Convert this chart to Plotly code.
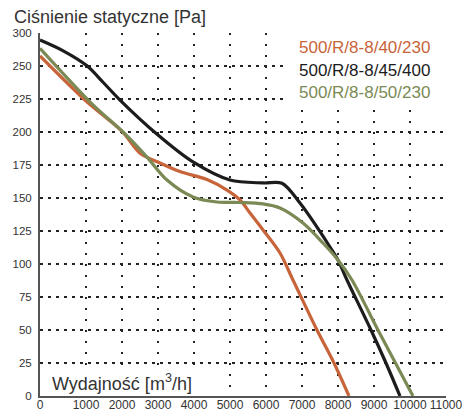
import plotly.graph_objects as go

# Axis in display units: the chart's scale is uneven (0->1000 is wider, 250->300 is compressed)
X_ZERO = -278          # axis position of the "0" tick
Y_TOP = 275            # axis position of the "300" tick

x_tick_vals = [X_ZERO, 1000, 2000, 3000, 4000, 5000, 6000, 7000, 8000, 9000, 10000, 11000]
x_tick_text = ["0", "1000", "2000", "3000", "4000", "5000", "6000", "7000", "8000", "9000", "10000", "11000"]
y_tick_vals = [0, 25, 50, 75, 100, 125, 150, 175, 200, 225, 250, Y_TOP]
y_tick_text = ["0", "25", "50", "75", "100", "125", "150", "175", "200", "225", "250", "300"]

series_names = ["500/R/8-8/40/230", "500/R/8-8/45/400", "500/R/8-8/50/230"]
series_colors = ["#c8643a", "#1c1c1c", "#7b8a55"]

red_x = [X_ZERO, 1000, 2000, 2500, 3056, 3611, 4361, 4917, 5278, 5556, 5917, 6389, 6750, 7417, 7889, 8306]
red_y = [257.6, 223.5, 200.5, 184, 176.5, 170, 164, 156, 148.5, 138.6, 125.8, 108.3, 87.9, 50, 25, 0]

black_x = [X_ZERO, 367, 1019, 1480, 1944, 3000, 3972, 5000, 5917, 6444, 6944, 7417, 7778, 8000, 8250, 8917, 9333, 9722]
black_y = [269.7, 261.5, 250.3, 237.5, 224.2, 197.7, 177.3, 163.6, 161.4, 161.2, 146.2, 128, 112.9, 103, 87.9, 50, 25, 0]

olive_x = [X_ZERO, 1194, 2028, 2694, 3250, 3972, 4639, 5278, 5917, 6389, 7028, 7583, 8000, 8389, 9111, 9597, 10083]
olive_y = [263.4, 220.5, 200, 181, 163.6, 150.8, 147, 146.6, 145.5, 142.4, 131, 115.9, 103, 87.9, 50, 25, 0]

xs = [red_x, black_x, olive_x]
ys = [red_y, black_y, olive_y]

FONT = "Liberation Sans, Arial, sans-serif"

fig = go.Figure()
for name, color, x, y in zip(series_names, series_colors, xs, ys):
    fig.add_trace(go.Scatter(x=x, y=y, mode="lines", name=name,
                             line=dict(color=color, width=3.2, shape="spline", smoothing=0.9),
                             showlegend=False, hoverinfo="skip"))

fig.update_layout(
    width=462, height=413,
    margin=dict(l=40, r=16, t=33, b=17),
    paper_bgcolor="white", plot_bgcolor="white",
    font=dict(family=FONT, color="#333333"),
    xaxis=dict(range=[X_ZERO, 11001], tickvals=x_tick_vals, ticktext=x_tick_text,
               automargin=False, ticklabeloverflow="allow",
               showgrid=True, gridcolor="#222222", gridwidth=1.6, griddash="2px,9px",
               showline=True, linecolor="#555555", linewidth=2, zeroline=False,
               ticks="", tickfont=dict(size=12, color="#333333"), ticklabelstandoff=-3),
    yaxis=dict(range=[0, Y_TOP + 0.01], tickvals=y_tick_vals, ticktext=y_tick_text,
               automargin=False, ticklabeloverflow="allow",
               showgrid=True, gridcolor="#222222", gridwidth=1.6, griddash="3px,5px",
               showline=True, linecolor="#555555", linewidth=2, zeroline=False,
               ticks="", tickfont=dict(size=11.5, color="#333333"), ticklabelstandoff=4),
)

# white boxes behind the legend block and the x title
fig.add_shape(type="rect", xref="paper", yref="paper", layer="above",
              x0=(283 - 40) / 406, x1=1.05, y0=(396 - 110) / 363, y1=1.06,
              fillcolor="white", line=dict(width=0))
fig.add_shape(type="rect", xref="paper", yref="paper", layer="above",
              x0=(42 - 40) / 406, x1=(200 - 40) / 406, y0=(396 - 394.5) / 363, y1=(396 - 366) / 363,
              fillcolor="white", line=dict(width=0))

# legend as coloured text
for i, (name, color) in enumerate(zip(series_names, series_colors)):
    fig.add_annotation(xref="paper", yref="paper", x=(297 - 40) / 406, y=(396 - (48 + 22 * i)) / 363,
                       xanchor="left", yanchor="middle", showarrow=False,
                       text=name, font=dict(family=FONT, size=17, color=color))

fig.add_annotation(xref="paper", yref="paper", x=(12 - 40) / 406, y=(396 - 17) / 363,
                   xanchor="left", yanchor="middle", showarrow=False,
                   text="Ciśnienie statyczne [Pa]", font=dict(family=FONT, size=18, color="#333333"))
fig.add_annotation(xref="paper", yref="paper", x=(50 - 40) / 406, y=(396 - 382) / 363,
                   xanchor="left", yanchor="middle", showarrow=False,
                   text="Wydajność [m<sup>3</sup>/h]", font=dict(family=FONT, size=18, color="#333333"))

fig.write_html("out.html", config={"displayModeBar": False, "staticPlot": True},
               post_script="document.body.style.margin='0px';document.body.style.overflow='hidden';")
